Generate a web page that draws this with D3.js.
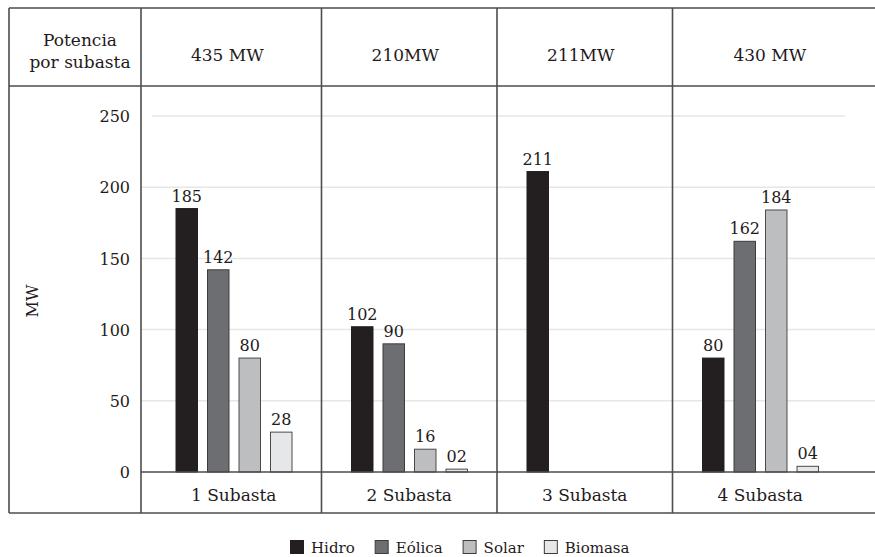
<!DOCTYPE html>
<html>
<head>
<meta charset="utf-8">
<script src="https://cdn.jsdelivr.net/npm/d3@7/dist/d3.min.js"></script>
<style>
  html, body { margin: 0; padding: 0; background: #fff; }
  svg { display: block; }
  text { font-family: "DejaVu Serif", "Liberation Serif", serif; fill: #1f1b1c; }
</style>
</head>
<body>
<svg id="chart" width="875" height="557"></svg>
<script>
// ---- data ----
const categories = ["1 Subasta", "2 Subasta", "3 Subasta", "4 Subasta"];
const headerLabels = ["435 MW", "210MW", "211MW", "430 MW"];
const headerTitle = ["Potencia", "por subasta"];
const seriesNames = ["Hidro", "Eólica", "Solar", "Biomasa"];
const hidro   = [185, 102, 211, 80];
const eolica  = [142, 90, null, 162];
const solar   = [80, 16, null, 184];
const biomasa = [28, 2, null, 4];
const yTicks = [0, 50, 100, 150, 200, 250];
const yLabel = "MW";

const seriesValues = [hidro, eolica, solar, biomasa];
const colors = ["#231f20", "#6d6e71", "#bcbec0", "#e6e7e8"];
const strokes = ["#231f20", "#3c3c3e", "#4a4a4c", "#4a4a4c"];

// ---- layout ----
const svg = d3.select("#chart");
const tbl = { left: 9, firstCol: 141, right: 875, top: 8, headBottom: 86, base: 472, bottom: 513 };
const lineColor = "#4d4d4f";

const x = d3.scaleBand().domain(categories).range([146, 848]).paddingInner(0).paddingOuter(0);
const x1 = d3.scaleBand().domain(seriesNames).range([-57.75, 58.25]).paddingInner(0.3175).paddingOuter(0);
const y = d3.scaleLinear().domain([0, 250]).range([tbl.base, 116]);

// gridlines
const grid = svg.append("g");
grid.selectAll("line").data(yTicks.filter(d => d > 0)).join("line")
  .attr("x1", d => d === 250 ? 152 : tbl.firstCol)
  .attr("x2", d => d === 250 ? 845 : tbl.right)
  .attr("y1", d => y(d)).attr("y2", d => y(d))
  .attr("stroke", "#e6e6e6").attr("stroke-width", 1.5);

// y axis (labels only)
const yAxis = d3.axisLeft(y).tickValues(yTicks).tickSize(0).tickPadding(0);
const gy = svg.append("g").attr("transform", "translate(130,0)").call(yAxis);
gy.select(".domain").remove();
gy.selectAll("text").attr("font-size", 16).attr("font-family", "DejaVu Serif")
  .attr("fill", "#1f1b1c").attr("dy", "0.35em");

svg.append("text")
  .attr("transform", "translate(38,301) rotate(-90)")
  .attr("text-anchor", "middle").attr("font-size", 16).text(yLabel);

// bars
const barData = [];
categories.forEach((c, i) => {
  seriesNames.forEach((s, j) => {
    const v = seriesValues[j][i];
    if (v !== null) barData.push({ cat: c, ser: s, j, v });
  });
});

const fmt = d3.format("02d");
const bars = svg.append("g");
bars.selectAll("rect").data(barData).join("rect")
  .attr("x", d => x(d.cat) + x.bandwidth() / 2 + x1(d.ser))
  .attr("width", x1.bandwidth())
  .attr("y", d => y(d.v))
  .attr("height", d => y(0) - y(d.v))
  .attr("fill", d => colors[d.j])
  .attr("stroke", d => strokes[d.j])
  .attr("stroke-width", 1);

bars.selectAll("text").data(barData).join("text")
  .attr("x", d => x(d.cat) + x.bandwidth() / 2 + x1(d.ser) + x1.bandwidth() / 2)
  .attr("y", d => y(d.v) - 7)
  .attr("text-anchor", "middle").attr("font-size", 16)
  .attr("fill", "#2a2a2a")
  .text(d => fmt(d.v));

// table lines
const dividers = categories.slice(0, 3).map(c => x(c) + x.bandwidth());
const vlines = [tbl.left, tbl.firstCol].concat(dividers);
const tg = svg.append("g").attr("stroke", lineColor).attr("stroke-width", 1.6);
tg.selectAll("line.v").data(vlines).join("line").attr("class", "v")
  .attr("x1", d => d).attr("x2", d => d).attr("y1", tbl.top).attr("y2", tbl.bottom);
tg.append("line").attr("x1", tbl.left).attr("x2", tbl.right).attr("y1", tbl.top).attr("y2", tbl.top);
tg.append("line").attr("x1", tbl.left).attr("x2", tbl.right).attr("y1", tbl.headBottom).attr("y2", tbl.headBottom);
tg.append("line").attr("x1", tbl.firstCol).attr("x2", tbl.right).attr("y1", tbl.base).attr("y2", tbl.base);
tg.append("line").attr("x1", tbl.left).attr("x2", tbl.right).attr("y1", tbl.bottom).attr("y2", tbl.bottom);

// header texts
svg.append("text").attr("x", 80).attr("y", 46).attr("text-anchor", "middle").attr("font-size", 17).text(headerTitle[0]);
svg.append("text").attr("x", 80).attr("y", 68).attr("text-anchor", "middle").attr("font-size", 17).text(headerTitle[1]);
const cellEdges = [tbl.firstCol].concat(dividers).concat([tbl.right]);
svg.append("g").selectAll("text").data(headerLabels).join("text")
  .attr("x", (d, i) => (cellEdges[i] + cellEdges[i + 1]) / 2 - 4)
  .attr("y", 61).attr("text-anchor", "middle").attr("font-size", 17)
  .text(d => d);

// category labels (bottom row)
svg.append("g").selectAll("text").data(categories).join("text")
  .attr("x", d => x(d) + x.bandwidth() / 2)
  .attr("y", 501).attr("text-anchor", "middle").attr("font-size", 17)
  .text(d => d);

// legend
const lg = svg.append("g").attr("transform", "translate(290,540)");
let lx = 0;
seriesNames.forEach((s, j) => {
  lg.append("rect").attr("x", lx + 0.5).attr("y", 0.5).attr("width", 13).attr("height", 13)
    .attr("fill", colors[j]).attr("stroke", strokes[j === 0 ? 0 : 1]).attr("stroke-width", 1);
  const t = lg.append("text").attr("x", lx + 21).attr("y", 12.5).attr("font-size", 15).text(s);
  lx += 21 + t.node().getComputedTextLength() + 20;
});
</script>
</body>
</html>
